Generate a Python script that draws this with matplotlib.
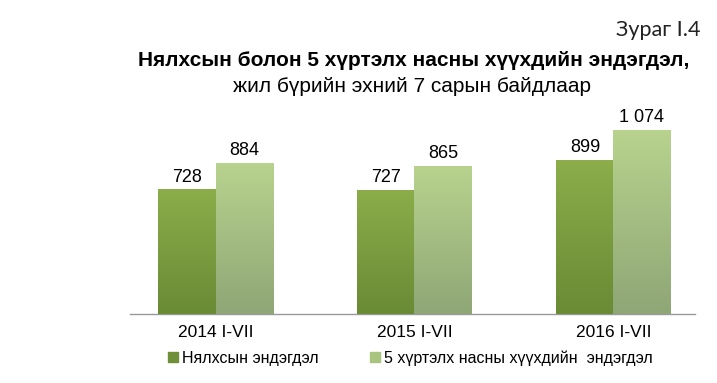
import matplotlib
matplotlib.use("Agg")
import matplotlib.pyplot as plt
import numpy as np
from matplotlib.colors import LinearSegmentedColormap
from matplotlib.lines import Line2D

categories = ["2014 I-VII", "2015 I-VII", "2016 I-VII"]
infant = [728, 727, 899]
under5 = [884, 865, 1074]
labels_infant = ["728", "727", "899"]
labels_under5 = ["884", "865", "1 074"]
series_names = ["Нялхсын эндэгдэл", "5 хүртэлх насны хүүхдийн  эндэгдэл"]

plt.rcParams['font.family'] = ['Liberation Sans', 'DejaVu Sans']

fig = plt.figure(figsize=(7.17, 3.83), dpi=100)
ax = fig.add_axes([130/717, 1-314/383, 565/717, 214/383])

x = np.arange(len(categories))
w = 0.287
b1 = ax.bar(x - w/2, infant, w, color="#7a9a3e", zorder=2)
b2 = ax.bar(x + w/2, under5, w, color="#a9c47e", zorder=2)

grad = np.linspace(0, 1, 256).reshape(-1, 1)
cm1 = LinearSegmentedColormap.from_list("g1", ["#6a8a35", "#8cad4a"])
cm2 = LinearSegmentedColormap.from_list("g2", ["#8fa676", "#b8d38e"])
for bars, cm in ((b1, cm1), (b2, cm2)):
    for p in bars:
        x0, y0 = p.get_x(), p.get_y()
        ww, hh = p.get_width(), p.get_height()
        im = ax.imshow(grad, cmap=cm, origin="lower", aspect="auto",
                       extent=(x0, x0 + ww, y0, y0 + hh), zorder=3)
        im.set_clip_path(p)

for xi, v, t in zip(x - w/2, infant, labels_infant):
    ax.text(xi, v + 22, t, ha="center", va="bottom", fontsize=13)
for xi, v, t in zip(x + w/2, under5, labels_under5):
    ax.text(xi, v + 22, t, ha="center", va="bottom", fontsize=13)

ax.set_xlim(-0.43, 2.41)
ax.set_ylim(0, 1250)
ax.set_xticks(x)
ax.set_xticklabels(categories, fontsize=12.5)
ax.tick_params(axis="x", length=0, pad=8)
ax.set_yticks([])
for s in ("top", "right", "left"):
    ax.spines[s].set_visible(False)
ax.spines["bottom"].set_color("#999999")
ax.spines["bottom"].set_linewidth(1.0)
ax.patch.set_alpha(0)

handles = [Line2D([], [], marker="s", linestyle="none", markersize=7, color="#6f8f38"),
           Line2D([], [], marker="s", linestyle="none", markersize=7, color="#a9c47e")]
fig.legend(handles, series_names, loc="center left", bbox_to_anchor=(168/717, 1-358/383),
           ncol=2, frameon=False, fontsize=11.5, handlelength=0.6, handletextpad=0.3,
           columnspacing=3.2, borderaxespad=0, borderpad=0)

fig.text(700/717, 1-30/383, "Зураг I.4", ha="right", va="center", fontsize=15.5,
         family=["Lato", "DejaVu Sans"], color="#222222")
fig.text(414/717, 1-60/383, "Нялхсын болон 5 хүртэлх насны хүүхдийн эндэгдэл,",
         ha="center", va="center", fontsize=15, fontweight="bold")
fig.text(412/717, 1-87/383, "жил бүрийн эхний 7 сарын байдлаар",
         ha="center", va="center", fontsize=15)

fig.savefig("out.png", dpi=100)
